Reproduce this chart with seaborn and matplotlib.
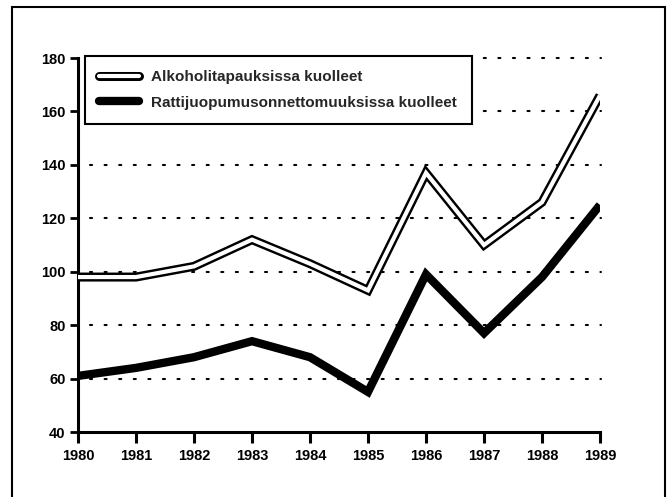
import matplotlib
matplotlib.use("Agg")
import matplotlib.pyplot as plt
from matplotlib.lines import Line2D
from matplotlib.patches import Rectangle
import seaborn as sns
import pandas as pd

years = [1980, 1981, 1982, 1983, 1984, 1985, 1986, 1987, 1988, 1989]
alkoholi = [98, 98, 102, 112, 103, 93, 137, 110, 126, 166]
ratti = [61, 64, 68, 74, 68, 55, 99, 77, 98, 125]
label_alk = "Alkoholitapauksissa kuolleet"
label_rat = "Rattijuopumusonnettomuuksissa kuolleet"
yticks = [40, 60, 80, 100, 120, 140, 160, 180]

sns.set_theme(style="white")
plt.rcParams['font.family'] = ['Liberation Sans', 'DejaVu Sans']

df = pd.DataFrame({"year": years, "alk": alkoholi, "rat": ratti})

fig = plt.figure(figsize=(6.68, 4.97), dpi=100)
ax = fig.add_axes([78/668, 1-432/497, (600-78)/668, (432-58)/497])

# dotted grid
for v in yticks[1:]:
    ax.plot([1980.2, 1989.02], [v, v], color="black", lw=1.5,
            linestyle=(0, (1, 6)), zorder=1, dash_capstyle="round",
            clip_on=False)

sns.lineplot(data=df, x="year", y="alk", ax=ax, color="black", lw=6.5,
             zorder=3, solid_joinstyle="miter", solid_capstyle="butt")
sns.lineplot(data=df, x="year", y="alk", ax=ax, color="white", lw=3.0,
             zorder=4, solid_joinstyle="miter", solid_capstyle="butt")
sns.lineplot(data=df, x="year", y="rat", ax=ax, color="black", lw=6,
             zorder=5, solid_joinstyle="miter", solid_capstyle="butt")

ax.set_xlim(1980, 1989)
ax.set_ylim(40, 180)
ax.set_xticks(years)
ax.set_xticklabels([str(y) for y in years], fontweight="bold")
ax.set_yticks(yticks)
ax.set_yticklabels([str(v) for v in yticks], fontweight="bold")
ax.set_xlabel("")
ax.set_ylabel("")
for s in ["top", "right"]:
    ax.spines[s].set_visible(False)
for s in ["left", "bottom"]:
    ax.spines[s].set_linewidth(2.2)
    ax.spines[s].set_color("black")
ax.tick_params(axis="y", direction="out", length=6, width=2, pad=3,
               labelsize=10.5, left=True, colors="black")
ax.tick_params(axis="x", direction="out", length=8, width=2.2, pad=4,
               labelsize=10.5, bottom=True, colors="black")
ax.patch.set_visible(False)

h_alk = (Line2D([], [], color="black", lw=6.5), Line2D([], [], color="white", lw=3.0))
h_rat = Line2D([], [], color="black", lw=6)
leg = ax.legend([h_alk, h_rat], [label_alk, label_rat], loc="upper left",
                bbox_to_anchor=(0.013, 1.006), fancybox=False, framealpha=1,
                edgecolor="black", prop={"size": 11, "weight": "bold"},
                handlelength=2.6, labelspacing=0.75, borderpad=0.95,
                handletextpad=0.8, borderaxespad=0)
leg.get_frame().set_linewidth(1.5)
leg.set_zorder(10)

fig.patches.append(Rectangle((12/668, -0.05), (665-12)/668, 1 - 7/497 + 0.05,
                             transform=fig.transFigure, fill=False,
                             edgecolor="black", lw=1.5))

fig.savefig("out.png", dpi=100, facecolor="white")
